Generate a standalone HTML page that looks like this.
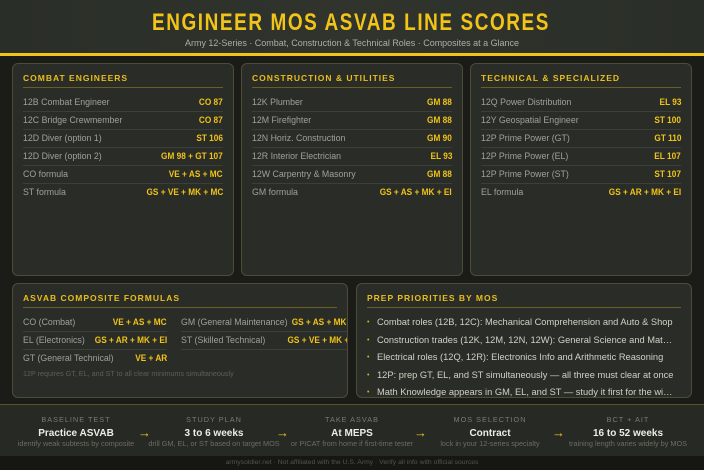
<!DOCTYPE html>
<html><head><meta charset="utf-8"><style>
*{margin:0;padding:0;box-sizing:border-box}
body{width:704px;height:470px;overflow:hidden;background:#1b1c17;font-family:"Liberation Sans",sans-serif;position:relative}
.hdr{position:absolute;left:0;top:0;width:704px;height:53px;background:linear-gradient(90deg,#2a2e28,#30342d 50%,#2a2e28)}
.ybar{position:absolute;left:0;top:53px;width:704px;height:3px;background:#f2c418}
.panel{position:absolute;background:#2a2d27;border:1px solid #4d4c37;border-radius:6px;overflow:hidden}
.ph{position:absolute;left:10px;right:10px;top:0;height:24px;border-bottom:1px solid #6a5e22}
.ph span{position:absolute;left:0;top:9px;font-size:8.5px;line-height:10px;font-weight:bold;color:#e9bd1c;letter-spacing:1px;white-space:nowrap}
.rows{position:absolute;left:10px;right:10px;top:30px}
.row{position:relative;height:18px;border-bottom:1px solid #3c3f37;white-space:nowrap}
.row:last-child{border-bottom:none}
.lb{position:absolute;left:0;top:0;line-height:17px;font-size:8.8px;color:#a0a097}
.vl{position:absolute;right:0;top:0;line-height:17px;font-weight:bold;font-size:9.6px;color:#f0c21a;transform:scaleX(0.86);transform-origin:right center}
.col{position:absolute;top:30px}
.bul{position:absolute;left:10px;top:30px;width:310px}
.bul div{height:17.5px;line-height:17.5px;font-size:9.3px;color:#d0d0c6;white-space:nowrap;overflow:hidden;text-overflow:ellipsis;padding-left:10px;position:relative}
.bul div:before{content:"•";position:absolute;left:0;top:0;color:#d9ad1a;font-size:7px}
.strip{position:absolute;left:0;top:404px;width:704px;height:52px;background:#272a24;border-top:1px solid #5c5224}
.foot{position:absolute;left:0;top:456px;width:704px;height:14px;background:#161713;text-align:center;font-size:6.8px;line-height:14px;color:#54544c}
.step{position:absolute;width:150px;text-align:center;white-space:nowrap}
.step .a{position:absolute;left:0;width:150px;top:416px;font-size:7.3px;line-height:8px;letter-spacing:1px;color:#7a7a70}
.step .b{position:absolute;left:0;width:150px;top:427px;font-size:10px;line-height:13px;font-weight:bold;color:#ecece4}
.step .c{position:absolute;left:0;width:150px;top:440px;font-size:7.3px;line-height:8px;color:#6c6c63}
.arr{position:absolute;top:426px;font-size:13px;line-height:14px;color:#f0c21a;font-weight:bold}
</style></head><body>
<div class="hdr"></div>
<svg style="position:absolute;left:0;top:0" width="704" height="53">
<text x="152" y="30" font-family="Liberation Sans Narrow, Liberation Sans, sans-serif" font-weight="bold" font-size="24" fill="#f2c418" textLength="398" lengthAdjust="spacingAndGlyphs" letter-spacing="2">ENGINEER MOS ASVAB LINE SCORES</text>
<text x="185" y="46" font-family="Liberation Sans, sans-serif" font-size="9" fill="#aeaea5" textLength="334" lengthAdjust="spacingAndGlyphs">Army 12-Series · Combat, Construction &amp; Technical Roles · Composites at a Glance</text>
</svg>
<div class="ybar"></div>

<div class="panel" style="left:12px;top:63px;width:222px;height:213px">
<div class="ph"><span>COMBAT ENGINEERS</span></div>
<div class="rows">
<div class="row"><span class="lb">12B Combat Engineer</span><span class="vl">CO 87</span></div>
<div class="row"><span class="lb">12C Bridge Crewmember</span><span class="vl">CO 87</span></div>
<div class="row"><span class="lb">12D Diver (option 1)</span><span class="vl">ST 106</span></div>
<div class="row"><span class="lb">12D Diver (option 2)</span><span class="vl">GM 98 + GT 107</span></div>
<div class="row"><span class="lb">CO formula</span><span class="vl">VE + AS + MC</span></div>
<div class="row"><span class="lb">ST formula</span><span class="vl">GS + VE + MK + MC</span></div>
</div></div>

<div class="panel" style="left:241px;top:63px;width:222px;height:213px">
<div class="ph"><span>CONSTRUCTION &amp; UTILITIES</span></div>
<div class="rows">
<div class="row"><span class="lb">12K Plumber</span><span class="vl">GM 88</span></div>
<div class="row"><span class="lb">12M Firefighter</span><span class="vl">GM 88</span></div>
<div class="row"><span class="lb">12N Horiz. Construction</span><span class="vl">GM 90</span></div>
<div class="row"><span class="lb">12R Interior Electrician</span><span class="vl">EL 93</span></div>
<div class="row"><span class="lb">12W Carpentry &amp; Masonry</span><span class="vl">GM 88</span></div>
<div class="row"><span class="lb">GM formula</span><span class="vl">GS + AS + MK + EI</span></div>
</div></div>

<div class="panel" style="left:470px;top:63px;width:222px;height:213px">
<div class="ph"><span>TECHNICAL &amp; SPECIALIZED</span></div>
<div class="rows">
<div class="row"><span class="lb">12Q Power Distribution</span><span class="vl">EL 93</span></div>
<div class="row"><span class="lb">12Y Geospatial Engineer</span><span class="vl">ST 100</span></div>
<div class="row"><span class="lb">12P Prime Power (GT)</span><span class="vl">GT 110</span></div>
<div class="row"><span class="lb">12P Prime Power (EL)</span><span class="vl">EL 107</span></div>
<div class="row"><span class="lb">12P Prime Power (ST)</span><span class="vl">ST 107</span></div>
<div class="row"><span class="lb">EL formula</span><span class="vl">GS + AR + MK + EI</span></div>
</div></div>

<div class="panel" style="left:12px;top:283px;width:336px;height:115px">
<div class="ph"><span>ASVAB COMPOSITE FORMULAS</span></div>
<div class="col" style="left:10px;width:144px">
<div class="row"><span class="lb">CO (Combat)</span><span class="vl">VE + AS + MC</span></div>
<div class="row"><span class="lb">EL (Electronics)</span><span class="vl">GS + AR + MK + EI</span></div>
<div class="row" style="border-bottom:none"><span class="lb">GT (General Technical)</span><span class="vl">VE + AR</span></div>
</div>
<div class="col" style="left:168px;width:183px">
<div class="row" style="border-bottom:1px solid #3c3f37"><span class="lb">GM (General Maintenance)</span><span class="vl">GS + AS + MK + EI</span></div>
<div class="row" style="border-bottom:1px solid #3c3f37"><span class="lb">ST (Skilled Technical)</span><span class="vl">GS + VE + MK + MC</span></div>
</div>
<div style="position:absolute;left:10px;top:86px;font-size:7.2px;line-height:8px;color:#5e5e55;white-space:nowrap">12P requires GT, EL, and ST to all clear minimums simultaneously</div>
</div>

<div class="panel" style="left:356px;top:283px;width:336px;height:115px">
<div class="ph"><span>PREP PRIORITIES BY MOS</span></div>
<div class="bul">
<div>Combat roles (12B, 12C): Mechanical Comprehension and Auto &amp; Shop</div>
<div>Construction trades (12K, 12M, 12N, 12W): General Science and Math Knowledge</div>
<div>Electrical roles (12Q, 12R): Electronics Info and Arithmetic Reasoning</div>
<div>12P: prep GT, EL, and ST simultaneously — all three must clear at once</div>
<div>Math Knowledge appears in GM, EL, and ST — study it first for the widest payoff</div>
</div></div>

<div class="strip"></div>
<div class="step" style="left:1px"><div class="a">BASELINE TEST</div><div class="b">Practice ASVAB</div><div class="c">identify weak subtests by composite</div></div>
<div class="step" style="left:139px"><div class="a">STUDY PLAN</div><div class="b">3 to 6 weeks</div><div class="c">drill GM, EL, or ST based on target MOS</div></div>
<div class="step" style="left:277px"><div class="a">TAKE ASVAB</div><div class="b">At MEPS</div><div class="c">or PICAT from home if first-time tester</div></div>
<div class="step" style="left:415px"><div class="a">MOS SELECTION</div><div class="b">Contract</div><div class="c">lock in your 12-series specialty</div></div>
<div class="step" style="left:553px"><div class="a">BCT + AIT</div><div class="b">16 to 52 weeks</div><div class="c">training length varies widely by MOS</div></div>
<div class="arr" style="left:138px">→</div>
<div class="arr" style="left:276px">→</div>
<div class="arr" style="left:414px">→</div>
<div class="arr" style="left:552px">→</div>
<div class="foot">armysoldier.net · Not affiliated with the U.S. Army · Verify all info with official sources</div>
</body></html>
